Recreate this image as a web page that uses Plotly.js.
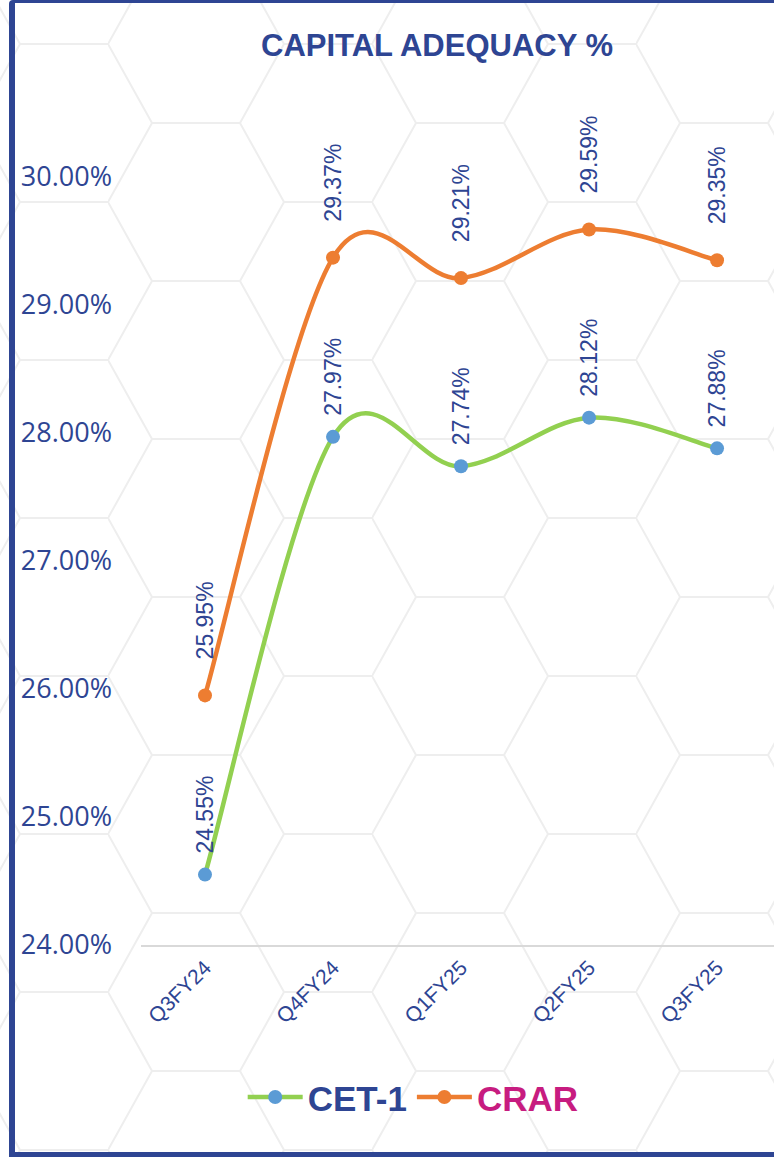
<!DOCTYPE html>
<html>
<head>
<meta charset="utf-8">
<script src="https://cdn.plot.ly/plotly-3.0.1.min.js"></script>
<style>
  html, body { margin: 0; padding: 0; background: #ffffff; }
  #wrap { position: relative; width: 774px; height: 1157px; overflow: hidden; }
  #bg { position: absolute; left: 0; top: 0; }
  #chart { position: absolute; left: 0; top: 0; width: 774px; height: 1157px; }
  #frame {
    position: absolute; left: 9px; top: 0; width: 790px; height: 1157px;
    box-sizing: border-box; pointer-events: none;
    border-left: 6px solid #2E4593; border-top: 3px solid #2E4593; border-bottom: 5px solid #2E4593;
    border-top-left-radius: 4px;
  }
</style>
</head>
<body>
<div id="wrap">
  <svg id="bg" width="774" height="1157" xmlns="http://www.w3.org/2000/svg"></svg>
  <div id="chart"></div>
  <div id="frame"></div>
</div>
<script>
// Quarterly capital adequacy ratios (%)
const quarters = ['Q3FY24', 'Q4FY24', 'Q1FY25', 'Q2FY25', 'Q3FY25'];
const cet1 = [24.55, 27.97, 27.74, 28.12, 27.88];
const crar = [25.95, 29.37, 29.21, 29.59, 29.35];
const yTicks = [24, 25, 26, 27, 28, 29, 30];

const NAVY = '#2E4593';
const MAGENTA = '#C71C80';
const GREEN = '#92D050';
const BLUE = '#5B9BD5';
const ORANGE = '#ED7D31';
const fmt = v => v.toFixed(2) + '%';
const idx = quarters.map((_, i) => i);

// Faint hexagon backdrop
(function drawHexBackdrop() {
  const s = 88, hh = 79;
  const svg = document.getElementById('bg');
  const d = `M0,${hh}L${s / 2},0L${1.5 * s},0L${2 * s},${hh}L${1.5 * s},${2 * hh}L${s / 2},${2 * hh}Z` +
            `M${2 * s},${hh}L${3 * s},${hh}`;
  svg.innerHTML =
    `<defs><pattern id="hex" patternUnits="userSpaceOnUse" x="108" y="123" width="${3 * s}" height="${2 * hh}">` +
    `<path d="${d}" fill="none" stroke="#eeeeee" stroke-width="2"/></pattern></defs>` +
    `<rect x="0" y="0" width="774" height="1157" fill="url(#hex)"/>`;
})();

// Smoothed line through the points (cubic Bezier, tangent = (next - prev) / 6),
// expressed in data coordinates so the axes do the scaling.
function smoothPath(values) {
  const n = values.length;
  const P = i => [idx[Math.max(0, Math.min(n - 1, i))], values[Math.max(0, Math.min(n - 1, i))]];
  let d = `M${P(0)[0]},${P(0)[1]}`;
  for (let i = 0; i < n - 1; i++) {
    const p0 = P(i - 1), p1 = P(i), p2 = P(i + 1), p3 = P(i + 2);
    const c1 = [p1[0] + (p2[0] - p0[0]) / 6, p1[1] + (p2[1] - p0[1]) / 6];
    const c2 = [p2[0] - (p3[0] - p1[0]) / 6, p2[1] - (p3[1] - p1[1]) / 6];
    d += ` C${c1[0]},${c1[1]} ${c2[0]},${c2[1]} ${p2[0]},${p2[1]}`;
  }
  return d;
}

function curve(values, color) {
  return {
    type: 'path', xref: 'x', yref: 'y', layer: 'below',
    path: smoothPath(values),
    line: { color: color, width: 4.5 }
  };
}

const labelFont = { family: 'Liberation Sans, Arial, sans-serif', size: 23, color: NAVY };

function valueLabels(values, shift) {
  return values.map((v, i) => ({
    x: idx[i], y: v, xref: 'x', yref: 'y',
    text: fmt(v), textangle: -90, showarrow: false,
    xanchor: 'center', yanchor: 'bottom', yshift: shift,
    font: labelFont
  }));
}

const traces = [
  // point markers
  { type: 'scatter', mode: 'markers', x: idx, y: cet1, showlegend: false,
    marker: { color: BLUE, size: 14 }, hoverinfo: 'skip' },
  { type: 'scatter', mode: 'markers', x: idx, y: crar, showlegend: false,
    marker: { color: ORANGE, size: 14 }, hoverinfo: 'skip' },
  // legend entries
  { type: 'scatter', mode: 'lines+markers', x: [null], y: [null],
    name: `<b><span style="color:${NAVY}">CET-1</span></b>`,
    line: { color: GREEN, width: 4.5 }, marker: { color: BLUE, size: 14 } },
  { type: 'scatter', mode: 'lines+markers', x: [null], y: [null],
    name: `<b><span style="color:${MAGENTA}">CRAR</span></b>`,
    line: { color: ORANGE, width: 4.5 }, marker: { color: ORANGE, size: 14 } }
];

const layout = {
  width: 774, height: 1157,
  margin: { l: 141, r: 0, t: 49, b: 212, pad: 0 },
  paper_bgcolor: 'rgba(0,0,0,0)',
  plot_bgcolor: 'rgba(0,0,0,0)',
  title: {
    text: '<b>CAPITAL ADEQUACY %</b>',
    font: { family: 'Liberation Sans, Arial, sans-serif', size: 31, color: NAVY },
    xref: 'container', x: 437 / 774, xanchor: 'center',
    yref: 'container', y: 1 - 45 / 1157, yanchor: 'middle'
  },
  xaxis: {
    range: [-0.5, 4.445],
    tickvals: idx, ticktext: quarters,
    showline: true, linecolor: '#d9d9d9', linewidth: 2,
    showgrid: false, zeroline: false, ticks: '',
    tickangle: -45,
    tickfont: { family: 'Liberation Sans, Arial, sans-serif', size: 21, color: NAVY },
    fixedrange: true
  },
  yaxis: {
    range: [24, 31],
    tickvals: yTicks, ticktext: yTicks.map(fmt),
    showgrid: false, zeroline: false, showline: false, ticks: '',
    tickfont: { family: 'Open Sans, sans-serif', size: 27, color: NAVY },
    ticklabelstandoff: 28,
    fixedrange: true
  },
  showlegend: true,
  legend: {
    orientation: 'h', x: 0.43, xanchor: 'center', y: -0.17, yanchor: 'middle',
    font: { family: 'Liberation Sans, Arial, sans-serif', size: 35 },
    itemwidth: 55,
    bgcolor: 'rgba(0,0,0,0)'
  },
  shapes: [curve(cet1, GREEN), curve(crar, ORANGE)],
  annotations: valueLabels(cet1, 19).concat(valueLabels(crar, 34))
};

Plotly.newPlot('chart', traces, layout, { displayModeBar: false, staticPlot: true });
</script>
</body>
</html>
